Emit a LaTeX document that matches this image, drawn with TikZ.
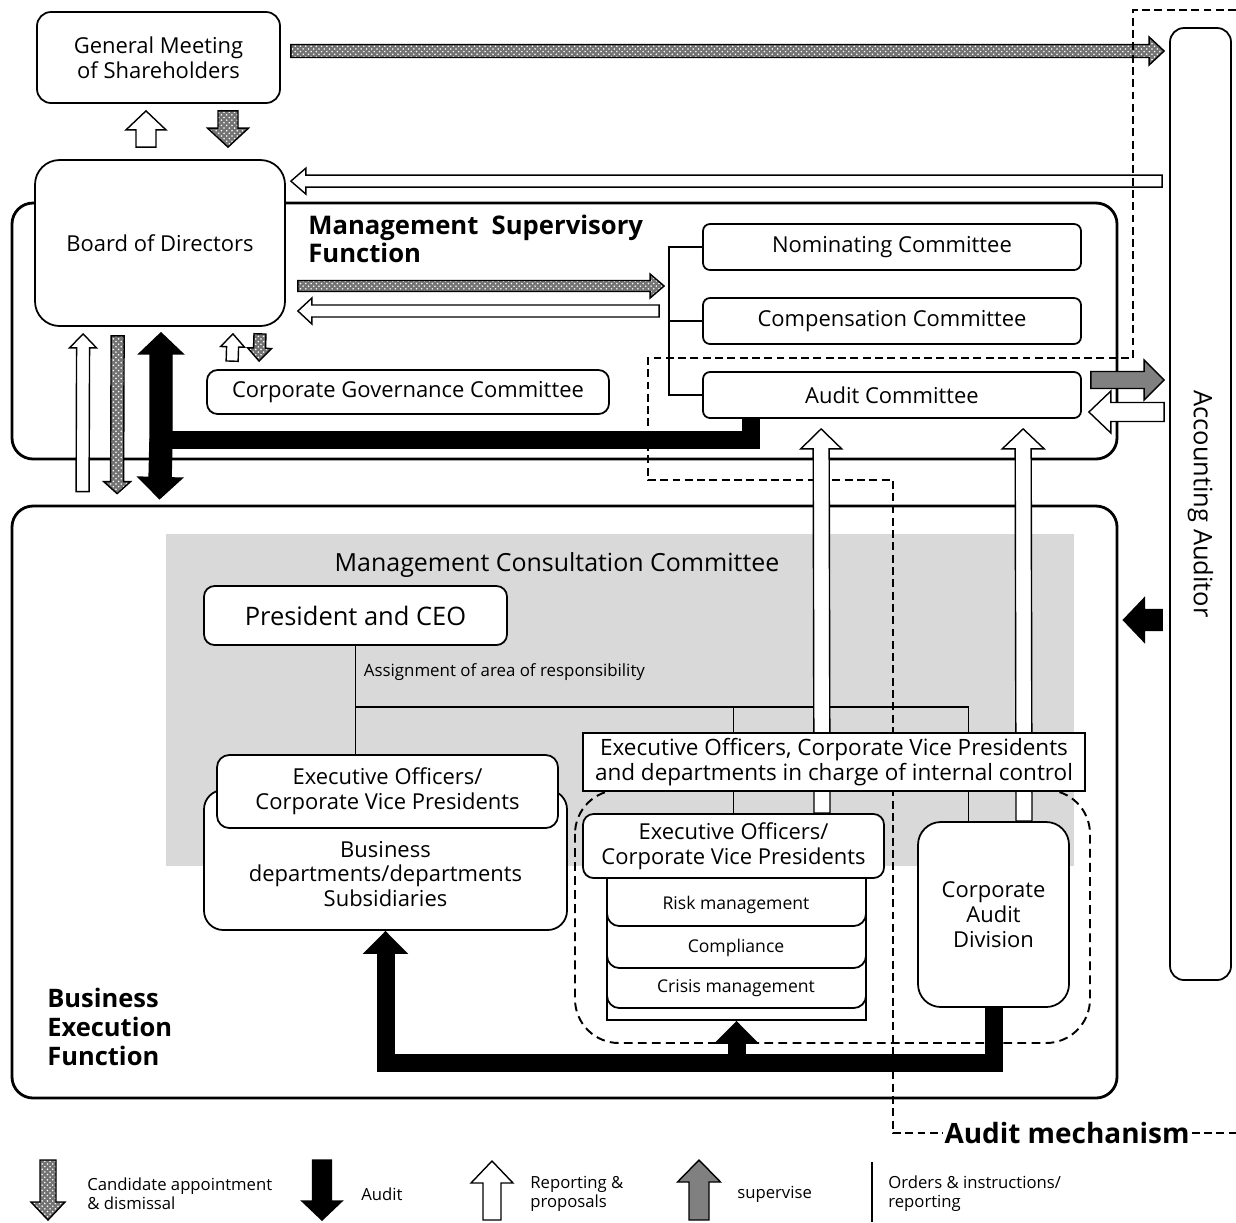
\documentclass[tikz,border=0pt]{standalone}
\usepackage{fontspec}
\setmainfont{Open Sans}
\usetikzlibrary{arrows.meta, calc, patterns}

% block arrow: [style]{from}{to}{half shaft}{half head}{head length}, sizes in px
\newcommand{\blockarrow}[6][]{%
  \pgfmathsetlengthmacro\bsw{#4*0.2mm}%
  \pgfmathsetlengthmacro\bhw{#5*0.2mm}%
  \pgfmathsetlengthmacro\bhl{#6*0.2mm}%
  \coordinate (ba-s) at (#2);
  \coordinate (ba-e) at (#3);
  \coordinate (ba-n) at ($(ba-e)!\bhl!(ba-s)$);
  \draw[#1] ($(ba-s)!\bsw!90:(ba-e)$) -- ($(ba-n)!\bsw!90:(ba-e)$)
    -- ($(ba-n)!\bhw!90:(ba-e)$) -- (ba-e) -- ($(ba-n)!\bhw!-90:(ba-e)$)
    -- ($(ba-n)!\bsw!-90:(ba-e)$) -- ($(ba-s)!\bsw!-90:(ba-e)$) -- cycle;}

\begin{document}
\begin{tikzpicture}[x=0.2mm, y=-0.2mm,
    box/.style={draw, line width=1pt, fill=white, align=center, inner sep=0pt,
      rounded corners=#1, font=\fontsize{12.5}{14.2}\selectfont},
    box/.default=5pt,
    outerbox/.style={draw, line width=1.6pt, rounded corners=12pt, inner sep=0pt},
    heading/.style={anchor=west, align=left, inner sep=0pt,
      font=\bfseries\fontsize{14.6}{16.2}\selectfont},
    item/.style={font=\fontsize{10}{12}\selectfont},
    appoint/.style={draw, line width=0.8pt, preaction={fill=black!55},
      pattern=crosshatch dots, pattern color=white},
    report/.style={draw, line width=0.8pt, fill=white},
    audit/.style={draw, line width=0.8pt, fill=black},
    supervise/.style={draw, line width=0.8pt, fill=black!50},
    auditbar/.style={line width=3.6mm},
    auditline/.style={auditbar, -{Triangle[width=8.8mm, length=4.6mm]}},
    orders/.style={line width=1.1pt},
    mechanism/.style={line width=1pt, dash pattern=on 4.5pt off 2.5pt},
    legend/.style={anchor=west, align=left, inner sep=0pt, font=\fontsize{9.5}{10.8}\selectfont}]

  \useasboundingbox (0,0) rectangle (1236,1222);

  % functions
  \node[outerbox, minimum width=221mm, minimum height=51.2mm] (msf) at (564.5,331) {};
  \node[outerbox, minimum width=221mm, minimum height=118.4mm] (bef) at (564.5,802) {};
  \node[fill=black!15, inner sep=0pt, minimum width=181.6mm, minimum height=66.4mm] (mcc) at (620,700) {};
  \node[font=\fontsize{14.2}{16}\selectfont] (mcc-title) at ($(mcc.north)+(-63,31)$) {Management Consultation Committee};

  % top boxes
  \node[box=8pt, minimum width=48.6mm, minimum height=18.2mm] (gm) at (158.5,57.5) {General Meeting\\of Shareholders};
  \node[box=14pt, minimum width=50mm, minimum height=33.2mm] (bod) at (160,243) {Board of Directors};
  \node[box=8pt, minimum width=12.2mm, minimum height=190.4mm] (aa) at (1200.5,504) {};
  \node[rotate=-90, font=\fontsize{14.5}{16}\selectfont] (aa-text) at (aa.center) {Accounting Auditor};

  \blockarrow[appoint]{$(gm.east)+(10,-6.5)$}{$(aa.west|-gm.east)+(-5,-6.5)$}{6.5}{14}{15}
  \blockarrow[report]{$(aa.west|-bod.north)+(-7,22)$}{$(bod.north east)+(5,22)$}{6}{13}{15}

  % audit mechanism
  \node[font=\bfseries\fontsize{15.9}{18}\selectfont, inner sep=1pt] (am) at (1067,1133) {Audit mechanism};
  \draw[mechanism] (1236,10) -- (1133,10) -- (1133,358) -- (648,358) -- (648,480)
    -- (893,480) -- (893,1133) -- (am.west);
  \draw[mechanism] (am.east) -- (1236,1133);
  \draw[mechanism, line width=1.1pt, dash pattern=on 5pt off 3pt, rounded corners=25pt] (575,790) rectangle (1090,1043);

  % supervisory function
  \node[heading] (msf-title) at (308,239) {Management\ \ Supervisory\\Function};
  \node[box=4pt, minimum width=75.6mm, minimum height=9.2mm] (nom) at (892,247) {Nominating Committee};
  \node[box=4pt, minimum width=75.6mm, minimum height=9.2mm] (comp) at (892,321) {Compensation Committee};
  \node[box=4pt, minimum width=75.6mm, minimum height=9.2mm] (audit) at (892,395) {Audit Committee};
  \node[box=6pt, minimum width=80.4mm, minimum height=8.8mm] (cgc) at (408,392) {Corporate Governance Committee};
  \draw[orders] (nom.west) -- ++(-33,0) |- (audit.west);
  \draw[orders] (comp.west) -- ++(-33,0);

  % execution function
  \node[box=6pt, font=\fontsize{14.5}{16}\selectfont, minimum width=60.6mm, minimum height=11.8mm] (ceo) at (355.5,615.5) {President and CEO};
  \node[box=11pt, minimum width=72.6mm, minimum height=28mm] (bd) at (385.5,860) {};
  \node[align=center, font=\fontsize{12.5}{14.2}\selectfont] (bd-text) at ($(bd.center)+(0,14)$)
    {Business\\departments/departments\\Subsidiaries};
  \node[box=7pt, minimum width=68.2mm, minimum height=14.6mm] (eo1) at (387.5,791.5) {Executive Officers/\\Corporate Vice Presidents};
  \node[draw, line width=1pt, fill=white, inner sep=0pt, minimum width=51.8mm, minimum height=30mm] (stack) at (736.5,945) {};
  \foreach \ya/\yb in {950/1008, 910/968, 870/926}
    \draw[line width=1pt, fill=white, rounded corners=7pt] (607,\ya) -- (607,\yb) -- (866,\yb) -- (866,\ya);
  \node[item] (risk) at (736,905) {Risk management};
  \node[item] (compliance) at (736,948) {Compliance};
  \node[item] (crisis) at (736,988) {Crisis management};
  \node[box=6pt, minimum width=60.2mm, minimum height=12.8mm] (eo2) at (733.5,846) {Executive Officers/\\Corporate Vice Presidents};
  \node[box=13pt, minimum width=30.2mm, minimum height=37mm] (cad) at (993.5,914.5) {Corporate\\Audit\\Division};

  % orders & instructions
  \coordinate (tree) at ($(ceo.south)+(0,61)$);
  \draw[orders] (ceo.south) -- (ceo.south |- eo1.north);
  \draw[orders] (tree) -| ($(cad.north)+(-25,0)$);
  \draw[orders] (tree -| eo2.north) -- (eo2.north);
  \node[anchor=west, inner sep=0pt, font=\fontsize{9.6}{11}\selectfont] (assign) at ($(ceo.south)+(8,26)$)
    {Assignment of area of responsibility};

  \blockarrow[report]{$(eo2.north)+(88.5,0)$}{$(audit.south west)+(119,10)$}{8}{20.5}{20}
  \blockarrow[report]{$(cad.north)+(30.5,0)$}{$(audit.south west)+(321,10)$}{8}{21}{20}

  \node[draw, line width=1pt, fill=white, align=center, inner sep=0pt,
    font=\fontsize{12.8}{14.2}\selectfont, minimum width=100.4mm, minimum height=11.6mm] (icd) at (834,762)
    {Executive Officers, Corporate Vice Presidents\\and departments in charge of internal control};

  \node[heading, font=\bfseries\fontsize{14.5}{16.4}\selectfont] (bef-title) at (47,1027) {Business\\Execution\\Function};

  % arrows
  \blockarrow[report]{$(bod.north)+(-14,-12)$}{$(gm.south)+(-12.5,7)$}{10}{20}{19}
  \blockarrow[appoint]{$(gm.south)+(69.5,7)$}{$(bod.north)+(68,-12)$}{10}{20.5}{19}
  \blockarrow[appoint]{$(bod.east)+(12,43)$}{$(nom.west|-bod.east)+(-38,43)$}{5.5}{12}{14}
  \blockarrow[report]{$(nom.west|-bod.east)+(-43,68)$}{$(bod.east)+(12,68)$}{6}{13}{14}
  \blockarrow[report]{$(cgc.north west)+(26,-8)$}{$(bod.south)+(73,7)$}{6}{12}{13}
  \blockarrow[appoint]{$(bod.south)+(100,7)$}{$(cgc.north west)+(53,-8)$}{6}{12}{13}
  \blockarrow[report]{$(bef.north west)+(72,-13)$}{$(bod.south west)+(49,7)$}{6.5}{13.5}{14}
  \blockarrow[appoint]{$(bod.south west)+(83.5,9)$}{$(bef.north west)+(106.5,-11)$}{6.5}{13.5}{12}
  \blockarrow[supervise]{$(audit.east)+(9,-15)$}{$(aa.west|-audit.east)+(-5,-15)$}{8.5}{20}{20}
  \blockarrow[report]{$(aa.west|-audit.east)+(-5,17)$}{$(audit.east)+(7,17)$}{9.5}{21}{22}
  \blockarrow[audit]{$(aa.west)+(-7,116)$}{$(bef.east|-aa.west)+(5,116)$}{10.5}{22}{21}

  % audit
  \coordinate (hub) at ($(bod.south)+(1,113)$);
  \draw[auditbar] ($(audit.south west)+(49,0)$) |- (hub);
  \blockarrow[audit]{hub}{$(bod.south)+(1,6)$}{11}{22}{21}
  \blockarrow[audit]{hub}{$(bef.north west)+(149,-6)$}{11}{22}{21}
  \draw[auditline] (cad.south) -- ++(0,55) -| (bd.south);
  \draw[auditline] ($(stack.south)+(0,42)$) -- (stack.south);

  % legend
  \node[legend] (lg-appoint) at (87,1194) {Candidate appointment\\\& dismissal};
  \blockarrow[appoint]{$(lg-appoint.west)+(-39,-34)$}{$(lg-appoint.west)+(-39,26)$}{8}{17}{18}
  \node[legend] (lg-audit) at (361,1194) {Audit};
  \blockarrow[audit]{$(lg-audit.west)+(-39,-34)$}{$(lg-audit.west)+(-39,26)$}{9.5}{20}{19}
  \node[legend] (lg-report) at (530,1194) {Reporting \&\\proposals};
  \blockarrow[report]{$(lg-report.west)+(-38,26)$}{$(lg-report.west)+(-38,-33)$}{9}{21}{22}
  \node[legend] (lg-supervise) at (737,1194) {supervise};
  \blockarrow[supervise]{$(lg-supervise.west)+(-38,26)$}{$(lg-supervise.west)+(-38,-34)$}{10}{21.5}{22}
  \node[legend] (lg-orders) at (888,1194) {Orders \& instructions/\\reporting};
  \draw[orders] ($(lg-orders.west)+(-16,-32)$) -- ($(lg-orders.west)+(-16,28)$);
\end{tikzpicture}
\end{document}
